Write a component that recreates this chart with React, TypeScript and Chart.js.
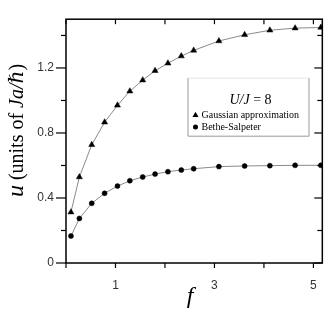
import React, { useEffect, useRef } from 'react';
import { Chart, registerables } from 'chart.js';

Chart.register(...registerables);

// ---- data ----
const fValues = [0.1, 0.27, 0.52, 0.78, 1.04, 1.29, 1.55, 1.8, 2.06, 2.33, 2.58, 3.09, 3.61, 4.12, 4.63, 5.15];
const gaussian = [0.313, 0.529, 0.727, 0.866, 0.97, 1.057, 1.125, 1.183, 1.229, 1.273, 1.308, 1.366, 1.404, 1.432, 1.445, 1.449];
const betheSalpeter = [0.166, 0.274, 0.367, 0.429, 0.473, 0.506, 0.529, 0.547, 0.562, 0.572, 0.58, 0.593, 0.597, 0.599, 0.601, 0.601];

const xTicks = [0, 1, 2, 3, 4, 5];
const xLabels = [1, 3, 5];
const yTicks = [0, 0.2, 0.4, 0.6, 0.8, 1.0, 1.2, 1.4];
const yLabels = [0, 0.4, 0.8, 1.2];

const seriesNames = ['Gaussian approximation', 'Bethe-Salpeter'];
const legendTitle = ['U/J', ' = 8'];
const xTitle = 'f';
const yTitleParts = ['u', ' (units of ', 'Ja/ℏ', ')'];

const SERIF = '"Liberation Serif", "DejaVu Serif", serif';

const decorPlugin = {
  id: 'decor',
  afterDraw(chart: any) {
    const { ctx, chartArea: a, scales } = chart;
    const xs = scales.x;
    const ys = scales.y;
    ctx.save();
    const line = (x1: number, y1: number, x2: number, y2: number) => {
      ctx.beginPath();
      ctx.moveTo(x1, y1);
      ctx.lineTo(x2, y2);
      ctx.stroke();
    };
    // frame
    ctx.strokeStyle = '#000';
    ctx.lineWidth = 1.5;
    ctx.strokeRect(a.left, a.top, a.right - a.left, a.bottom - a.top);
    // ticks
    ctx.lineWidth = 1.2;
    xTicks.forEach((v) => {
      const px = xs.getPixelForValue(v);
      line(px, a.bottom, px, a.bottom + 5);
      line(px, a.top, px, a.top + 5);
    });
    yTicks.forEach((v) => {
      const py = ys.getPixelForValue(v);
      const major = yLabels.includes(v);
      line(a.left - (major ? 10 : 5), py, a.left, py);
      line(a.right - (major ? 8 : 5), py, a.right, py);
    });

    // legend box
    const bl = a.left + 122;
    const br = a.left + 243;
    const bt = a.top + 59;
    const bb = a.top + 117;
    ctx.fillStyle = '#fff';
    ctx.fillRect(bl, bt, br - bl, bb - bt);
    ctx.strokeStyle = '#e6e6e6';
    ctx.lineWidth = 1;
    line(bl, bt, br, bt);
    ctx.strokeStyle = '#999';
    line(bl, bt, bl, bb);
    line(bl, bb, br, bb);
    line(br, bt, br, bb);

    ctx.fillStyle = '#000';
    ctx.textBaseline = 'alphabetic';
    ctx.textAlign = 'left';
    const f1 = 'italic 14px ' + SERIF;
    const f2 = '14px ' + SERIF;
    ctx.font = f1;
    const w1 = ctx.measureText(legendTitle[0]).width;
    ctx.font = f2;
    const w2 = ctx.measureText(legendTitle[1]).width;
    const cx = (bl + br) / 2 + 2;
    let sx = cx - (w1 + w2) / 2;
    ctx.font = f1;
    ctx.fillText(legendTitle[0], sx, a.top + 84.5);
    ctx.font = f2;
    ctx.fillText(legendTitle[1], sx + w1, a.top + 84.5);

    // entries
    const mx = bl + 7.5;
    const row1 = a.top + 96;
    const row2 = a.top + 107.7;
    ctx.beginPath();
    const r = 3.5;
    ctx.moveTo(mx, row1 - r);
    ctx.lineTo(mx + r * 0.866, row1 + r / 2);
    ctx.lineTo(mx - r * 0.866, row1 + r / 2);
    ctx.closePath();
    ctx.fill();
    ctx.beginPath();
    ctx.arc(mx, row2, 2.5, 0, Math.PI * 2);
    ctx.fill();
    ctx.font = '10px ' + SERIF;
    ctx.fillText(seriesNames[0], bl + 13.5, row1 + 3);
    ctx.fillText(seriesNames[1], bl + 13.5, row2 + 3);

    // x title
    ctx.font = 'italic 24px ' + SERIF;
    ctx.textAlign = 'center';
    ctx.fillText(xTitle, 190, 303);

    // y title (rotated, mixed fonts)
    const fonts = ['italic 24px ' + SERIF, '20px ' + SERIF, 'italic 20px ' + SERIF, '20px ' + SERIF];
    const widths = yTitleParts.map((t, i) => {
      ctx.font = fonts[i];
      return ctx.measureText(t).width;
    });
    const total = widths.reduce((s, w) => s + w, 0);
    ctx.translate(23, 130.5);
    ctx.rotate(-Math.PI / 2);
    ctx.textAlign = 'left';
    let px = -total / 2;
    yTitleParts.forEach((t, i) => {
      ctx.font = fonts[i];
      ctx.fillText(t, px, 0);
      px += widths[i];
    });
    ctx.restore();
  },
};

export default function App() {
  const ref = useRef<HTMLCanvasElement | null>(null);
  useEffect(() => {
    if (!ref.current) return;
    const chart = new Chart(ref.current, {
      type: 'scatter',
      data: {
        datasets: [
          {
            label: seriesNames[0],
            data: fValues.map((x, i) => ({ x, y: gaussian[i] })),
            showLine: true,
            borderColor: '#8a8a8a',
            borderWidth: 1,
            pointStyle: 'triangle',
            pointRadius: 3.5,
            pointBackgroundColor: '#000',
            pointBorderColor: '#000',
            pointBorderWidth: 0.5,
          },
          {
            label: seriesNames[1],
            data: fValues.map((x, i) => ({ x, y: betheSalpeter[i] })),
            showLine: true,
            borderColor: '#8a8a8a',
            borderWidth: 1,
            pointStyle: 'circle',
            pointRadius: 2.5,
            pointBackgroundColor: '#000',
            pointBorderColor: '#000',
            pointBorderWidth: 0.5,
          },
        ],
      },
      options: {
        animation: false,
        responsive: true,
        maintainAspectRatio: false,
        layout: { padding: { left: 0, top: 4, right: 7, bottom: 0 } },
        plugins: { legend: { display: false }, tooltip: { enabled: false } },
        scales: {
          x: {
            type: 'linear',
            min: 0,
            max: 5.18,
            afterBuildTicks: (s: any) => {
              s.ticks = xTicks.map((value) => ({ value }));
            },
            afterFit: (s: any) => {
              s.height = 47;
            },
            grid: { display: true, drawOnChartArea: false, drawTicks: false, color: 'rgba(0,0,0,0)' },
            border: { display: false },
            ticks: {
              padding: 15,
              color: '#333',
              font: { family: '"Liberation Sans", Arial, sans-serif', size: 12 },
              maxRotation: 0,
              autoSkip: false,
              callback: (v: any) => (xLabels.includes(v) ? String(v) : ''),
            },
          },
          y: {
            type: 'linear',
            min: 0,
            max: 1.5,
            afterBuildTicks: (s: any) => {
              s.ticks = yTicks.map((value) => ({ value }));
            },
            afterFit: (s: any) => {
              s.width = 66;
            },
            grid: { display: true, drawOnChartArea: false, drawTicks: false, color: 'rgba(0,0,0,0)' },
            border: { display: false },
            ticks: {
              padding: 12,
              color: '#333',
              font: { family: '"Liberation Sans", Arial, sans-serif', size: 12 },
              autoSkip: false,
              callback: (v: any) => (yLabels.includes(v) ? String(v) : ''),
            },
          },
        },
      },
      plugins: [decorPlugin],
    });
    return () => chart.destroy();
  }, []);
  return (
    <div style={{ position: 'fixed', left: 0, top: 0, width: 332, height: 310, background: '#fff' }}>
      <canvas ref={ref} />
    </div>
  );
}
